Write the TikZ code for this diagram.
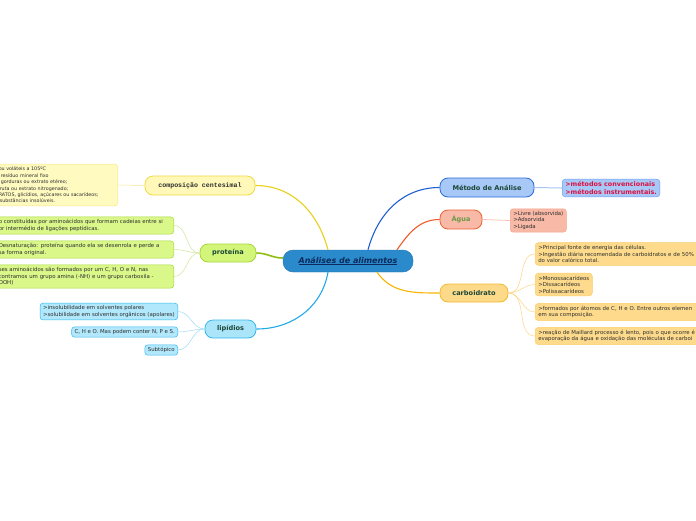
\documentclass[tikz,border=0pt]{standalone}
\usepackage{fontspec}
\setmainfont{DejaVu Sans}
\newfontfamily\monofont{Liberation Mono}
\usetikzlibrary{positioning, calc}
\definecolor{CentralBlue}{HTML}{2A8ACB}
\definecolor{CentralEdge}{HTML}{2478B4}
\definecolor{CentralText}{HTML}{0C2A5C}
\definecolor{TopicText}{HTML}{1C4636}
\definecolor{LeafText}{HTML}{2E2E2E}
\definecolor{YellowLine}{HTML}{E8CF1A}
\definecolor{YellowFill}{HTML}{FFF8B8}
\definecolor{YellowEdge}{HTML}{F0DA40}
\definecolor{YellowLeaf}{HTML}{FFFAC0}
\definecolor{YellowTwig}{HTML}{F6E78A}
\definecolor{GreenLine}{HTML}{8DBE10}
\definecolor{GreenFill}{HTML}{D2F57A}
\definecolor{GreenEdge}{HTML}{A5D63A}
\definecolor{GreenLeaf}{HTML}{DAF78A}
\definecolor{GreenTwig}{HTML}{CDE69A}
\definecolor{LipLine}{HTML}{22AAE8}
\definecolor{LipFill}{HTML}{AAE5FA}
\definecolor{LipEdge}{HTML}{35B8EE}
\definecolor{LipLeaf}{HTML}{B2E8FB}
\definecolor{LipTwig}{HTML}{9ED9F4}
\definecolor{MetLine}{HTML}{1E5ED2}
\definecolor{MetFill}{HTML}{A8C9F7}
\definecolor{MetEdge}{HTML}{2A6AD8}
\definecolor{MetLeafEdge}{HTML}{6E9FEA}
\definecolor{MetTwig}{HTML}{A6C4F2}
\definecolor{MetRed}{HTML}{DD1040}
\definecolor{AguaLine}{HTML}{F05A28}
\definecolor{AguaFill}{HTML}{F8B9A6}
\definecolor{AguaEdge}{HTML}{EF5F32}
\definecolor{AguaText}{HTML}{6A9A48}
\definecolor{AguaLeafEdge}{HTML}{F6A58E}
\definecolor{AguaTwig}{HTML}{F8C0B0}
\definecolor{CarbLine}{HTML}{F7B400}
\definecolor{CarbFill}{HTML}{FDD98A}
\definecolor{CarbEdge}{HTML}{F5B930}
\definecolor{CarbLeaf}{HTML}{FEDB8C}
\definecolor{CarbLeafEdge}{HTML}{F9CD6A}
\definecolor{CarbTwig}{HTML}{FCD682}

\tikzset{
  topic/.style={draw, line width=0.8pt, rounded corners=8pt, minimum height=19pt,
    inner xsep=5pt, font=\fontsize{6.6}{7}\selectfont\bfseries, text=TopicText},
  leaf/.style={draw, line width=0.5pt, rounded corners=3pt, inner xsep=3pt, inner ysep=2.5pt,
    align=left, font=\fontsize{5.4}{6.6}\selectfont, text=LeafText},
  branch/.style={line width=1.1pt},
  twig/.style={line width=0.5pt}
}

\begin{document}
\begin{tikzpicture}[x=1pt, y=-1pt]
  \useasboundingbox (0,0) rectangle (696,520);
  \clip (0,0) rectangle (696,520);

  % centre
  \node[draw=CentralEdge, fill=CentralBlue, rounded corners=10pt, minimum width=130pt,
        minimum height=22pt, font=\fontsize{8}{9}\selectfont\bfseries\itshape,
        text=CentralText] (central) at (348,261) {\underline{Análises de alimentos}};

  % main topics
  \node[topic, fill=YellowFill, draw=YellowEdge, minimum width=110pt,
        font=\monofont\fontsize{6.6}{7}\selectfont\bfseries, text=LeafText]
        (comp) at (200,185.5) {composição centesimal};
  \node[topic, fill=GreenFill, draw=GreenEdge, minimum width=56pt, minimum height=18pt]
        (prot) at (228,253) {proteína};
  \node[topic, fill=LipFill, draw=LipEdge, minimum width=51pt, minimum height=18pt]
        (lip) at (230.5,329) {lipídios};
  \node[topic, fill=MetFill, draw=MetEdge, minimum width=94pt]
        (met) at (487,187.5) {Método de Análise};
  \node[topic, fill=AguaFill, draw=AguaEdge, minimum width=42pt, text=AguaText]
        (agua) at (461,219.5) {Água};
  \node[topic, fill=CarbFill, draw=CarbEdge, minimum width=68pt, minimum height=18pt]
        (carb) at (474,293) {carboidrato};

  % composição centesimal
  \node[leaf, fill=YellowLeaf, draw=YellowTwig, text width=116pt, anchor=east,
        inner ysep=3pt, font=\fontsize{4.8}{6.4}\selectfont]
        (compinfo) at (118,185) {ou voláteis a 105ºC\\
          \hspace{2pt}resíduo mineral fixo\\
          \hspace{2pt}gorduras ou extrato etéreo;\\
          \hspace{1pt}ruta ou extrato nitrogenado;\\
          RATOS, glicídios, açúcares ou sacarídeos;\\
          \hspace{1pt}substâncias insolúveis.};

  % proteína
  \node[leaf, fill=GreenLeaf, draw=GreenEdge, text width=172pt, anchor=east]
        (protA) at (174,225.5) {o constituídas por aminoácidos que formam cadeias entre si\\
          or intermédio de ligações peptídicas.};
  \node[leaf, fill=GreenLeaf, draw=GreenEdge, text width=172pt, anchor=east]
        (protB) at (174,249.5) {Desnaturação: proteína quando ela se desenrola e perde a\\
          sa forma original.};
  \node[leaf, fill=GreenLeaf, draw=GreenEdge, text width=172pt, anchor=east]
        (protC) at (174,276.5) {ses aminoácidos são formados por um C, H, O e N, nas\\
          contramos um grupo amina (-NH) e um grupo carboxila -\\
          OOH)};

  % lipídios
  \node[leaf, fill=LipLeaf, draw=LipEdge, anchor=east]
        (lipA) at (178,311.5) {>insolubilidade em solventes polares\\
          >solubilidade em solventes orgânicos (apolares)};
  \node[leaf, fill=LipLeaf, draw=LipEdge, anchor=east]
        (lipB) at (178,332) {C, H e O. Mas podem conter N, P e S.};
  \node[leaf, fill=LipLeaf, draw=LipEdge, anchor=east]
        (lipC) at (178,350) {Subtópico};

  % método
  \node[leaf, fill=MetFill, draw=MetLeafEdge, anchor=west, text=MetRed,
        font=\fontsize{6.4}{7.4}\selectfont\bfseries]
        (metA) at (562,188) {>métodos convencionais\\>métodos instrumentais.};

  % água
  \node[leaf, fill=AguaFill, draw=AguaLeafEdge, anchor=west]
        (aguaA) at (510,220.5) {>Livre (absorvida)\\>Adsorvida\\>Ligada};

  % carboidrato
  \node[leaf, fill=CarbLeaf, draw=CarbLeafEdge, anchor=west, text width=220pt]
        (carbA) at (535,254) {>Principal fonte de energia das células.\\
          >Ingestão diária recomendada de carboidratos e de 50\%\\
          do valor calórico total.};
  \node[leaf, fill=CarbLeaf, draw=CarbLeafEdge, anchor=west]
        (carbB) at (535,284.5) {>Monossacarídeos\\>Dissacarídeos\\>Polissacarídeos};
  \node[leaf, fill=CarbLeaf, draw=CarbLeafEdge, anchor=west, text width=220pt]
        (carbC) at (535,312) {>formados por átomos de C, H e O. Entre outros elemen\\
          em sua composição.};
  \node[leaf, fill=CarbLeaf, draw=CarbLeafEdge, anchor=west, text width=220pt]
        (carbD) at (535,336) {>reação de Maillard processo é lento, pois o que ocorre é\\
          evaporação da água e oxidação das moléculas de carboi};

  % branches
  \draw[branch, YellowLine] (comp.east) to[out=0, in=105] ([xshift=-20pt]central.north);
  \draw[branch, GreenLine, line width=1.6pt] ([yshift=3pt]central.west) to[out=180, in=0] (prot.east);
  \draw[branch, LipLine] ([xshift=-20pt]central.south) to[out=-100, in=0] (lip.east);
  \draw[branch, MetLine] ([xshift=20pt]central.north) to[out=75, in=180] (met.west);
  \draw[branch, AguaLine] ([xshift=49pt]central.north) to[out=55, in=180] (agua.west);
  \draw[branch, CarbLine] ([xshift=29pt]central.south) to[out=-55, in=180] (carb.west);

  % twigs
  \draw[twig, YellowTwig] (comp.west) -- (compinfo.east);
  \foreach \leafname in {protA, protB, protC}
    \draw[twig, GreenTwig] (prot.west) to[out=180, in=0] (\leafname.east);
  \foreach \leafname in {lipA, lipB, lipC}
    \draw[twig, LipTwig] (lip.west) to[out=180, in=0] (\leafname.east);
  \draw[twig, MetTwig, line width=1pt] (met.east) to[out=0, in=180] (metA.west);
  \draw[twig, AguaTwig, line width=0.8pt] (agua.east) -- (aguaA.west);
  \foreach \leafname in {carbA, carbB, carbC, carbD}
    \draw[twig, CarbTwig] (carb.east) to[out=0, in=180] (\leafname.west);
\end{tikzpicture}
\end{document}
